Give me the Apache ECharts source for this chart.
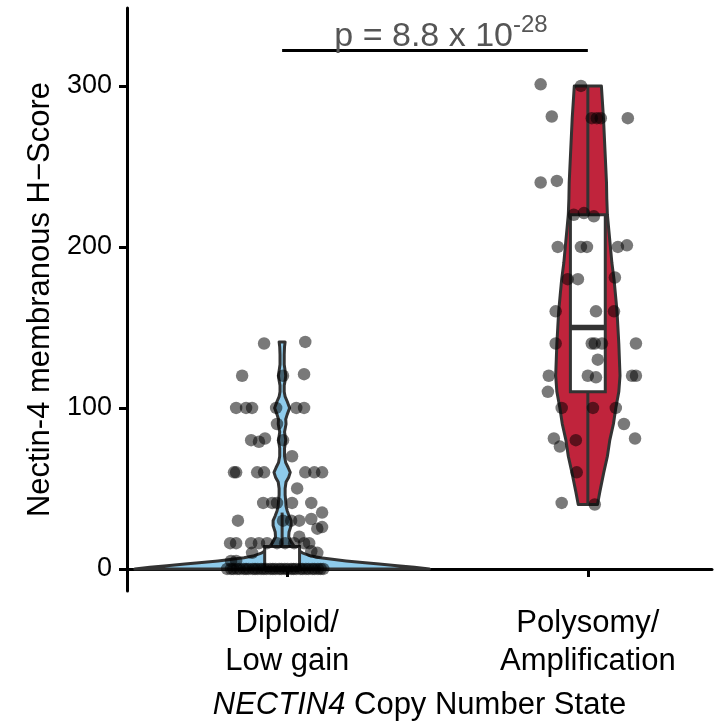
<!DOCTYPE html>
<html>
<head>
<meta charset="utf-8">
<script src="https://cdn.jsdelivr.net/npm/echarts@6/dist/echarts.min.js"></script>
<style>
  html, body { margin: 0; padding: 0; background: #fff; }
  #chart { width: 728px; height: 723px; }
</style>
</head>
<body>
<div id="chart"></div>
<script>
// 分组
const groups = ["Diploid/\nLow gain", "Polysomy/\nAmplification"];
const yTicks = [0, 100, 200, 300];

// 散点 (H-Score, 抖动偏移)
const diploidScore = [140, 141, 120, 120, 121, 100, 100, 100, 100, 100, 100, 90, 80, 79, 81, 80, 70,
  60, 60, 60, 60, 60, 60, 60, 50, 41, 41, 41, 41, 41, 35, 30, 30, 30, 30, 31, 25, 26, 20,
  16, 16, 16, 16, 16, 16, 16, 16, 16, 16, 10, 11, 10, 5, 5,
  0, 0, 0, 0, 0, 0, 0, 0, 0, 0, 0, 0, 0, 0, 0, 0, 0, 0, 0, 0, 0, 0, 0, 0, 0, 0, 0, 0, 0, 0, 0, 0, 0];
const diploidJitter = [-0.060, 0.077, -0.133, 0.003, 0.073, -0.153, -0.120, -0.100, -0.020, 0.047, 0.073, -0.017,
  -0.103, -0.077, -0.057, 0.003, 0.033, -0.160, -0.153, -0.083, -0.060, 0.077, 0.107, 0.133, 0.050,
  -0.063, -0.033, -0.017, 0.033, 0.097, 0.133, -0.147, 0.003, 0.030, 0.057, 0.097, 0.117, 0.133, 0.057,
  -0.173, -0.153, -0.103, -0.077, -0.050, -0.017, 0.010, 0.040, 0.073, 0.090, -0.100, 0.097, 0.117, -0.170, -0.153,
  -0.183, -0.170, -0.162, -0.150, -0.141, -0.128, -0.120, -0.111, -0.098, -0.090, -0.081, -0.070, -0.061,
  -0.052, -0.040, -0.031, -0.022, -0.010, -0.002, 0.009, 0.018, 0.030, 0.038, 0.047, 0.060, 0.068, 0.079,
  0.088, 0.100, 0.108, 0.119, 0.128, 0.137];
const polyScore = [301, 300, 281, 280, 280, 280, 280, 240, 241, 220, 221, 219, 200, 200, 200, 200, 201,
  180, 180, 181, 160, 160, 160, 140, 140, 140, 140, 140, 130, 120, 120, 119, 120, 120, 110,
  100, 100, 100, 90, 81, 76, 80, 81, 60, 41, 40];
const polyJitter = [-0.157, -0.023, -0.120, 0.013, 0.030, 0.043, 0.133, -0.157, -0.103, -0.047, -0.013, 0.020,
  -0.100, -0.023, -0.003, 0.100, 0.130, -0.067, -0.033, 0.090, -0.107, 0.027, 0.087, -0.107, 0.013, 0.023,
  0.047, 0.160, 0.033, -0.130, 0.000, 0.027, 0.147, 0.160, -0.133, -0.087, 0.017, 0.093, 0.120,
  -0.113, -0.093, -0.040, 0.157, -0.037, -0.087, 0.023];

// 小提琴轮廓 (分数, 半宽)
const diploidViolinY = [0, 1, 2, 3, 4, 5, 6, 7, 8, 10, 12, 14, 16, 18, 20, 23, 27, 30, 33, 36, 39, 42, 46, 50,
  54, 57, 60, 63, 66, 70, 75, 80, 85, 90, 93, 96, 100, 104, 107, 110, 114, 117, 120, 123, 127, 133, 138, 141];
const diploidViolinW = [0.490, 0.440, 0.383, 0.323, 0.267, 0.213, 0.167, 0.127, 0.097, 0.067, 0.050, 0.040,
  0.033, 0.027, 0.022, 0.023, 0.030, 0.030, 0.023, 0.017, 0.013, 0.012, 0.010, 0.010, 0.013, 0.022, 0.027,
  0.020, 0.012, 0.008, 0.008, 0.012, 0.008, 0.013, 0.012, 0.017, 0.025, 0.017, 0.010, 0.007, 0.007, 0.010,
  0.012, 0.010, 0.007, 0.007, 0.008, 0.010];
const polyViolinY = [40, 48, 60, 70, 80, 90, 100, 110, 120, 130, 140, 150, 160, 170, 180, 190, 200, 210, 220,
  230, 240, 260, 280, 300];
const polyViolinW = [0.032, 0.040, 0.053, 0.065, 0.073, 0.085, 0.093, 0.103, 0.107, 0.105, 0.103, 0.100,
  0.097, 0.092, 0.087, 0.080, 0.075, 0.070, 0.065, 0.063, 0.062, 0.057, 0.052, 0.045];

// 箱线图 [min, q1, median, q3, max]
const diploidBox = [0, 0, 0, 14, 35];
const polyBox = [40, 110, 150, 220, 300];

const pText = "p = 8.8 x 10";
const pSup = "-28";
const pBracketY = 322;

const groupCenter = [0.983, 2];
const outline = "#333333";

const chart = echarts.init(document.getElementById("chart"));

function violin(center, ys, ws, fill) {
  return {
    type: "custom",
    z: 1,
    silent: true,
    data: [[center, 0]],
    renderItem: function (params, api) {
      const left = ys.map((y, i) => api.coord([center - ws[i], y]));
      const right = ys.map((y, i) => api.coord([center + ws[i], y])).reverse();
      return {
        type: "polygon",
        shape: { points: left.concat(right) },
        style: { fill: fill, stroke: outline, lineWidth: 3, lineJoin: "round" },
      };
    },
  };
}

function box(center, s) {
  const hw = 0.058;
  return {
    type: "custom",
    z: 2,
    silent: true,
    data: [[center, s[2]]],
    renderItem: function (params, api) {
      const tl = api.coord([center - hw, s[3]]);
      const br = api.coord([center + hw, s[1]]);
      const ml = api.coord([center - hw, s[2]]);
      const mr = api.coord([center + hw, s[2]]);
      const top = api.coord([center, s[4]]);
      const q3 = api.coord([center, s[3]]);
      const q1 = api.coord([center, s[1]]);
      const bot = api.coord([center, s[0]]);
      const ls = { stroke: outline, lineWidth: 3 };
      return {
        type: "group",
        children: [
          { type: "line", shape: { x1: top[0], y1: top[1], x2: q3[0], y2: q3[1] }, style: ls },
          { type: "line", shape: { x1: q1[0], y1: q1[1], x2: bot[0], y2: bot[1] }, style: ls },
          {
            type: "rect",
            shape: { x: tl[0], y: tl[1], width: br[0] - tl[0], height: br[1] - tl[1] },
            style: { fill: "#ffffff", stroke: outline, lineWidth: 3 },
          },
          { type: "line", shape: { x1: ml[0], y1: ml[1], x2: mr[0], y2: mr[1] }, style: { stroke: outline, lineWidth: 5.5 } },
        ],
      };
    },
  };
}

function points(center, jitter, scores) {
  return {
    type: "scatter",
    z: 3,
    silent: true,
    symbolSize: 12.5,
    itemStyle: { color: "rgba(0,0,0,0.66)" },
    data: scores.map((v, i) => [center + jitter[i], v]),
  };
}

chart.setOption({
  animation: false,
  grid: { left: 127, right: 16, top: 8, bottom: 132, outerBoundsMode: "none", containLabel: false },
  xAxis: {
    type: "value",
    min: 0.467,
    max: 2.413,
    axisLine: { lineStyle: { color: "#000", width: 3 } },
    axisTick: { customValues: [1, 2], length: 8, lineStyle: { color: "#000", width: 3 } },
    axisLabel: {
      customValues: [1, 2],
      formatter: (v) => groups[Math.round(v) - 1],
      color: "#000",
      fontSize: 31,
      lineHeight: 38,
      margin: 13,
      fontFamily: "Liberation Sans",
    },
    splitLine: { show: false },
    name: "{i|NECTIN4} Copy Number State",
    nameLocation: "middle",
    nameGap: 99,
    nameTextStyle: {
      color: "#000",
      fontSize: 31,
      fontFamily: "Liberation Sans",
      rich: { i: { fontStyle: "italic", fontSize: 31, fontFamily: "Liberation Sans", color: "#000" } },
    },
  },
  yAxis: {
    type: "value",
    min: -13.7,
    max: 348.4,
    axisLine: { show: true, lineStyle: { color: "#000", width: 3 } },
    axisTick: { show: true, customValues: yTicks, length: 8, lineStyle: { color: "#000", width: 3 } },
    axisLabel: { customValues: yTicks, color: "#000", fontSize: 27, margin: 15, fontFamily: "Liberation Sans" },
    splitLine: { show: false },
    name: "Nectin-4 membranous H\u2212Score",
    nameLocation: "middle",
    nameRotate: 90,
    nameGap: 70,
    nameTextStyle: { color: "#000", fontSize: 31, fontFamily: "Liberation Sans" },
  },
  series: [
    violin(groupCenter[0], diploidViolinY, diploidViolinW, "#8ECBEB"),
    violin(groupCenter[1], polyViolinY, polyViolinW, "#C0243C"),
    box(groupCenter[0], diploidBox),
    box(groupCenter[1], polyBox),
    points(groupCenter[0], diploidJitter, diploidScore),
    points(groupCenter[1], polyJitter, polyScore),
    {
      type: "custom",
      z: 4,
      silent: true,
      data: [[1.5, pBracketY]],
      renderItem: function (params, api) {
        const a = api.coord([groupCenter[0], pBracketY]);
        const b = api.coord([groupCenter[1], pBracketY]);
        return {
          type: "group",
          children: [
            { type: "line", shape: { x1: a[0], y1: a[1], x2: b[0], y2: b[1] }, style: { stroke: "#000", lineWidth: 3 } },
            {
              type: "text",
              x: (a[0] + b[0]) / 2 + 6,
              y: a[1] + 3,
              style: {
                text: "{m|" + pText + "}{s|" + pSup + "}",
                align: "center",
                verticalAlign: "bottom",
                rich: {
                  m: { fontSize: 34, lineHeight: 40, verticalAlign: "bottom", fill: "#555", fontFamily: "Liberation Sans" },
                  s: { fontSize: 24, lineHeight: 24, verticalAlign: "top", fill: "#555", fontFamily: "Liberation Sans" },
                },
              },
            },
          ],
        };
      },
    },
  ],
});
</script>
</body>
</html>
